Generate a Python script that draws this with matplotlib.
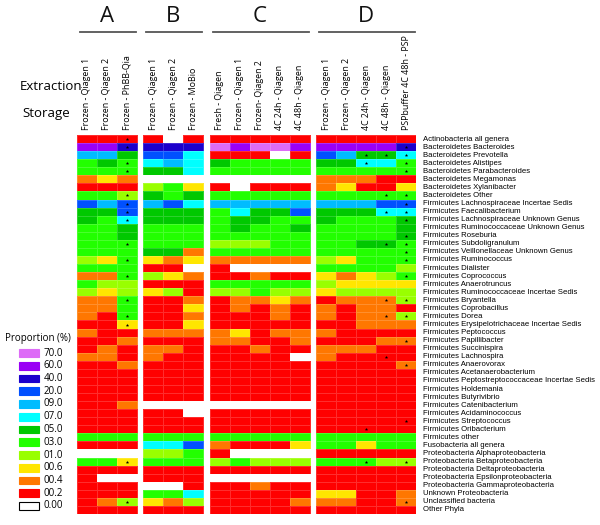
import numpy as np
import matplotlib
matplotlib.use('Agg')
import matplotlib.pyplot as plt
from matplotlib.colors import ListedColormap, BoundaryNorm
from matplotlib.patches import Rectangle
import matplotlib.transforms as mtrans

# taxa (rows, top to bottom)
taxa = ["Actinobacteria all genera", "Bacteroidetes Bacteroides", "Bacteroidetes Prevotella",
        "Bacteroidetes Alistipes", "Bacteroidetes Parabacteroides", "Bacteroidetes Megamonas",
        "Bacteroidetes Xylanibacter", "Bacteroidetes Other", "Firmicutes Lachnospiraceae Incertae Sedis",
        "Firmicutes Faecalibacterium", "Firmicutes Lachnospiraceae Unknown Genus",
        "Firmicutes Ruminococcaceae Unknown Genus", "Firmicutes Roseburia", "Firmicutes Subdoligranulum",
        "Firmicutes Veillonellaceae Unknown Genus", "Firmicutes Ruminococcus", "Firmicutes Dialister",
        "Firmicutes Coprococcus", "Firmicutes Anaerotruncus", "Firmicutes Ruminococcaceae Incertae Sedis",
        "Firmicutes Bryantella", "Firmicutes Coprobacillus", "Firmicutes Dorea",
        "Firmicutes Erysipelotrichaceae Incertae Sedis", "Firmicutes Peptococcus", "Firmicutes Papillibacter",
        "Firmicutes Succinispira", "Firmicutes Lachnospira", "Firmicutes Anaerovorax",
        "Firmicutes Acetanaerobacterium", "Firmicutes Peptostreptococcaceae Incertae Sedis",
        "Firmicutes Holdemania", "Firmicutes Butyrivibrio", "Firmicutes Catenibacterium",
        "Firmicutes Acidaminococcus", "Firmicutes Streptococcus", "Firmicutes Oribacterium",
        "Firmicutes other", "Fusobacteria all genera", "Proteobacteria Alphaproteobacteria",
        "Proteobacteria Betaproteobacteria", "Proteobacteria Deltaproteobacteria",
        "Proteobacteria Epsilonproteobacteria", "Proteobacteria Gammaproteobacteria",
        "Unknown Proteobacteria", "Unclassified bacteria", "Other Phyla"]

groups = ["A", "B", "C", "D"]
samples = {
    "A": ["Frozen - Qiagen 1", "Frozen - Qiagen 2", "Frozen - PhBB-Qia"],
    "B": ["Frozen - Qiagen 1", "Frozen - Qiagen 2", "Frozen - MoBio"],
    "C": ["Fresh - Qiagen", "Frozen - Qiagen 1", "Frozen- Qiagen 2", "4C 24h - Qiagen", "4C 48h - Qiagen"],
    "D": ["Frozen - Qiagen 1", "Frozen - Qiagen 2", "4C 24h - Qiagen", "4C 48h - Qiagen",
          "PSPbuffer 4C 48h - PSP"],
}

# proportion class per cell, one string per taxon, groups separated by spaces
# W=0  R=0.2  O=0.4  U=0.6  Y=1  L=3  G=5  C=7  S=9  B=20  N=40  V=60  P=70
cells = [
    "RRR RWR RRRRR RRRRR",
    "VVN NNN PVPPV VVVVN",
    "SSG BBC RRRWR BSGGC",
    "LGL CSC GLLLL GGCCL",
    "LLL GGC LLLLL LLLLL",
    "OUO WWW WWWWW OOORR",
    "RRR YLU RWRRR OURRU",
    "LLY GLG LLLLL LLLLL",
    "BSB SBC SSSSS SSSBB",
    "GGB GGG LCGGB GGGCC",
    "GLC GGG LGGLL GLLLG",
    "LLG LLL LGLLG LLLLG",
    "LLG LLL LLLLL LLLLG",
    "LLL LLL YYYLL LLGGL",
    "LLL GGO LLLLL LLLLL",
    "YUL UOU OOOOO YULLL",
    "LLL RRW RWWWW LLLLY",
    "OOL YUO RRORR UOUYL",
    "LYY RRR LLLLL YUUUU",
    "YUY UYR YYLYY UYYYY",
    "OOL RRO ROOUO ROOOY",
    "OOL RRU RORОR ORОOR".replace("О", "O"),
    "ORL RRO RRROR OROOY",
    "RRU RRU RRRRR RROOO",
    "ORR OOO OUROO ORRRR",
    "RRO RRR OORRO RRROO",
    "ROR OOR RRORR OOORR",
    "OOR ORR RRRRW ORRRR",
    "RRO RRR RRRRR RRRRO",
    "RRR RRR RRRRR RRRRR",
    "RRR RRR RRRRR RRRRR",
    "RRR RRR RRRRR RRRRR",
    "RRR RRR RRRRR RRRRR",
    "RRO WWW WWWWW RRRRR",
    "RRR RRW RRRRR RRRRR",
    "RRR RRR RRRRR RRRRR",
    "RRR RRR RRRRR RRRRR",
    "LLL LLL LLLLL LLLLL",
    "RRR CCB ORRRU LLULL",
    "WWW YYL RWWWW RRRRR",
    "LLU LLL YLYYY LLLYY",
    "RRR RRR RRRRR RRRRR",
    "RWW RRR WWWWW RRRRR",
    "RRR WWR RRORR RRRRR",
    "RRR LLC RRRRR UURRO",
    "ROY UOY RRRRO OORRO",
    "RRR RRR RRRRR RRRRR",
]

# significant cells (asterisks): column -> taxon numbers (1-based)
stars = {
    ("A", 2): [1, 2, 4, 5, 8, 9, 10, 11, 14, 16, 18, 21, 23, 24, 41, 46],
    ("D", 2): [3, 4, 37, 41],
    ("D", 3): [3, 8, 10, 14, 21, 23, 28],
    ("D", 4): [2, 3, 4, 5, 8, 9, 10, 11, 13, 14, 15, 16, 18, 21, 23, 26, 29, 36, 41, 46],
}

code_value = {"W": 0, "R": 0.2, "O": 0.4, "U": 0.6, "Y": 1, "L": 3, "G": 5,
              "C": 7, "S": 9, "B": 20, "N": 40, "V": 60, "P": 70}
levels = [70, 60, 40, 20, 9, 7, 5, 3, 1, 0.6, 0.4, 0.2, 0]
level_labels = ["70.0", "60.0", "40.0", "20.0", "09.0", "07.0", "05.0", "03.0", "01.0",
                "00.6", "00.4", "00.2", "0.00"]
level_colors = ["#dd6bf7", "#9a00f5", "#1c00cc", "#0050ff", "#00bcff", "#00ffff", "#00c800",
                "#22ff00", "#99ff00", "#ffe600", "#ff7700", "#ff0000", "#ffffff"]

cmap = ListedColormap(level_colors[::-1])
bounds = [-0.1, 0.1, 0.3, 0.5, 0.8, 2, 4, 6, 8, 15, 30, 50, 65, 100]
norm = BoundaryNorm(bounds, cmap.N)

W, H = 600, 525
fig = plt.figure(figsize=(6, 5.25), dpi=100)
ax = fig.add_axes([77 / W, 1 - 514 / H, 339 / W, 379 / H])
ax.set_axis_off()

gap = 0.32
nrow = len(taxa)
col_font = ['Open Sans', 'DejaVu Sans']
x0 = 0
centers = {}
for gi, g in enumerate(groups):
    ncol = len(samples[g])
    vals = np.array([[code_value[ch] for ch in row.split()[gi]] for row in cells], dtype=float)
    xe = x0 + np.arange(ncol + 1)
    ye = np.arange(nrow + 1)
    ax.pcolormesh(xe, ye, vals, cmap=cmap, norm=norm, edgecolors=(1, 1, 1, 0.18), linewidth=0.4)
    centers[g] = x0 + np.arange(ncol) + 0.5
    for j, lab in enumerate(samples[g]):
        ax.text(centers[g][j], -0.6, lab, rotation=90, ha='center', va='bottom',
                fontsize=6.4, family=col_font, color='black')
    x0 += ncol + gap

for (g, j), rows in stars.items():
    ax.plot([centers[g][j]] * len(rows), np.array(rows) - 0.5, ls='none', marker='*',
            ms=2.6, color='black', mew=0)

ax.set_xlim(0, x0 - gap)
ax.set_ylim(nrow, 0)

# row labels
for i, t in enumerate(taxa):
    ax.text(1.02, i + 0.5, t, transform=mtrans.blended_transform_factory(ax.transAxes, ax.transData),
            ha='left', va='center', fontsize=5.6, family=['Liberation Sans', 'DejaVu Sans'])

# group headers
bt = mtrans.blended_transform_factory(ax.transData, fig.transFigure)
for g in groups:
    lo, hi = centers[g][0] - 0.5, centers[g][-1] + 0.5
    ax.plot([lo + 0.15, hi - 0.05], [1 - 32 / H] * 2, color='#555555', lw=1.3,
            transform=bt, clip_on=False)
    ax.text((lo + hi) / 2, 1 - 17 / H, g, transform=bt, ha='center', va='center',
            fontsize=16, family=col_font, color='#111111')

fig.text(20 / W, 1 - 87 / H, "Extraction", ha='left', va='center', fontsize=9.5, family=col_font)
fig.text(22 / W, 1 - 113 / H, "Storage", ha='left', va='center', fontsize=9.5, family=col_font)

# legend
fig.text(5 / W, 1 - 339 / H, "Proportion (%)", ha='left', va='center', fontsize=7, family=col_font)
for i, (lab, c) in enumerate(zip(level_labels, level_colors)):
    yc = 353 + i * 12.75
    fig.add_artist(Rectangle((19 / W, 1 - (yc + 3.8) / H), 20 / W, 7.6 / H, transform=fig.transFigure,
                             facecolor=c, edgecolor='black' if c == '#ffffff' else c, lw=0.8))
    fig.text(44 / W, 1 - yc / H, lab, ha='left', va='center', fontsize=7, family=col_font)

fig.savefig('out.png', dpi=100)
